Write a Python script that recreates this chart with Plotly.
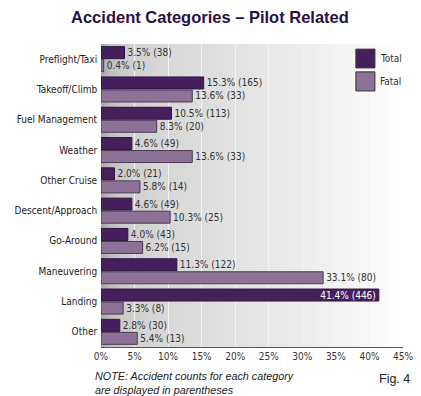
import plotly.graph_objects as go

categories = ["Preflight/Taxi", "Takeoff/Climb", "Fuel Management", "Weather", "Other Cruise",
              "Descent/Approach", "Go-Around", "Maneuvering", "Landing", "Other"]
total_pct = [3.5, 15.3, 10.5, 4.6, 2.0, 4.6, 4.0, 11.3, 41.4, 2.8]
total_cnt = [38, 165, 113, 49, 21, 49, 43, 122, 446, 30]
fatal_pct = [0.4, 13.6, 8.3, 13.6, 5.8, 10.3, 6.2, 33.1, 3.3, 5.4]
fatal_cnt = [1, 33, 20, 33, 14, 25, 15, 80, 8, 13]
x_ticks = [0, 5, 10, 15, 20, 25, 30, 35, 40, 45]
x_tick_labels = [f"{t}%" for t in x_ticks]

FONT = "DejaVu Sans Condensed, Liberation Sans Narrow, Arial Narrow, Liberation Sans, sans-serif"
C_TOTAL = "#46205c"
C_FATAL = "#8c7297"

def labels(p, c):
    return [f"{a:.1f}% ({b})" for a, b in zip(p, c)]

tot_pos = ["inside" if v > 40 else "outside" for v in total_pct]

fig = go.Figure()
fig.add_trace(go.Bar(
    y=categories, x=total_pct, orientation="h", name="Total",
    marker=dict(color=C_TOTAL, line=dict(color="#2e1540", width=1)),
    text=labels(total_pct, total_cnt), textposition=tot_pos, insidetextanchor="end",
    outsidetextfont=dict(color="#333333", size=10, family=FONT),
    insidetextfont=dict(color="#ffffff", size=10, family=FONT),
    textangle=0, cliponaxis=False,
))
fig.add_trace(go.Bar(
    y=categories, x=fatal_pct, orientation="h", name="Fatal",
    marker=dict(color=C_FATAL, line=dict(color="#4a3a52", width=1)),
    text=labels(fatal_pct, fatal_cnt), textposition="outside",
    outsidetextfont=dict(color="#333333", size=10, family=FONT),
    textangle=0, cliponaxis=False,
))

# gradient background
stops = [(0.0, 168), (0.03, 190), (0.08, 205), (0.2, 215), (0.45, 226), (0.7, 238), (0.88, 248), (1.0, 255)]
N = 90
shapes = []
for i in range(N):
    f0, f1 = i / N, (i + 1) / N
    fm = (f0 + f1) / 2
    for (a, ca), (b, cb) in zip(stops[:-1], stops[1:]):
        if a <= fm <= b:
            g = int(round(ca + (cb - ca) * (fm - a) / (b - a)))
            break
    col = f"rgb({g},{g},{g})"
    shapes.append(dict(type="rect", xref="x domain", yref="y domain", x0=f0, x1=f1 + 0.002,
                       y0=0, y1=1, fillcolor=col, line=dict(width=0), layer="below"))

# legend boxes
shapes.append(dict(type="rect", xref="paper", yref="paper", x0=0.844, x1=0.907, y0=0.921, y1=0.983,
                   fillcolor=C_TOTAL, line=dict(color="#333333", width=1)))
shapes.append(dict(type="rect", xref="paper", yref="paper", x0=0.844, x1=0.907, y0=0.845, y1=0.908,
                   fillcolor=C_FATAL, line=dict(color="#333333", width=1)))

annotations = [
    dict(text="Total", xref="paper", yref="paper", x=0.917, y=0.952, xanchor="left", yanchor="middle",
         showarrow=False, font=dict(family=FONT, size=10, color="#333333")),
    dict(text="Fatal", xref="paper", yref="paper", x=0.917, y=0.877, xanchor="left", yanchor="middle",
         showarrow=False, font=dict(family=FONT, size=10, color="#333333")),
    dict(text="<i>NOTE: Accident counts for each category<br>are displayed in parentheses</i>",
         xref="paper", yref="paper", x=-0.025, y=-0.068, xanchor="left", yanchor="top", align="left",
         showarrow=False, font=dict(family="Liberation Sans, Arial, sans-serif", size=10.8, color="#222222")),
    dict(text="Fig. 4", xref="paper", yref="paper", x=1.03, y=-0.075, xanchor="right", yanchor="top",
         showarrow=False, font=dict(family="Liberation Sans, Arial, sans-serif", size=12.5, color="#222222")),
]

# page body has an 8px margin: figure is sized/offset to land on the 421x396 frame
fig.update_layout(
    width=413, height=388,
    margin=dict(l=93, r=18, t=36, b=49, autoexpand=False),
    paper_bgcolor="white", plot_bgcolor="white",
    barmode="group", bargap=0.14, bargroupgap=0.08,
    showlegend=False,
    uniformtext=dict(minsize=10, mode="show"),
    title=dict(text="<b>Accident Categories – Pilot Related</b>", x=0.489, xanchor="center",
               xref="container", y=0.977, yanchor="middle",
               font=dict(family="Liberation Sans, Arial, sans-serif", size=16.5, color="#2a1145")),
    xaxis=dict(range=[0, 45], tickvals=x_ticks, ticktext=x_tick_labels, showgrid=True,
               gridcolor="#f3f3f3", gridwidth=1, zeroline=False, showline=True, linecolor="#555555",
               linewidth=1, ticks="", automargin=False,
               tickfont=dict(family=FONT, size=10, color="#333333")),
    yaxis=dict(autorange="reversed", showgrid=False, showline=False, ticks="", automargin=False,
               tickfont=dict(family=FONT, size=10, color="#222222"), ticksuffix=" "),
    shapes=shapes, annotations=annotations,
)

fig.write_html("out.html")
